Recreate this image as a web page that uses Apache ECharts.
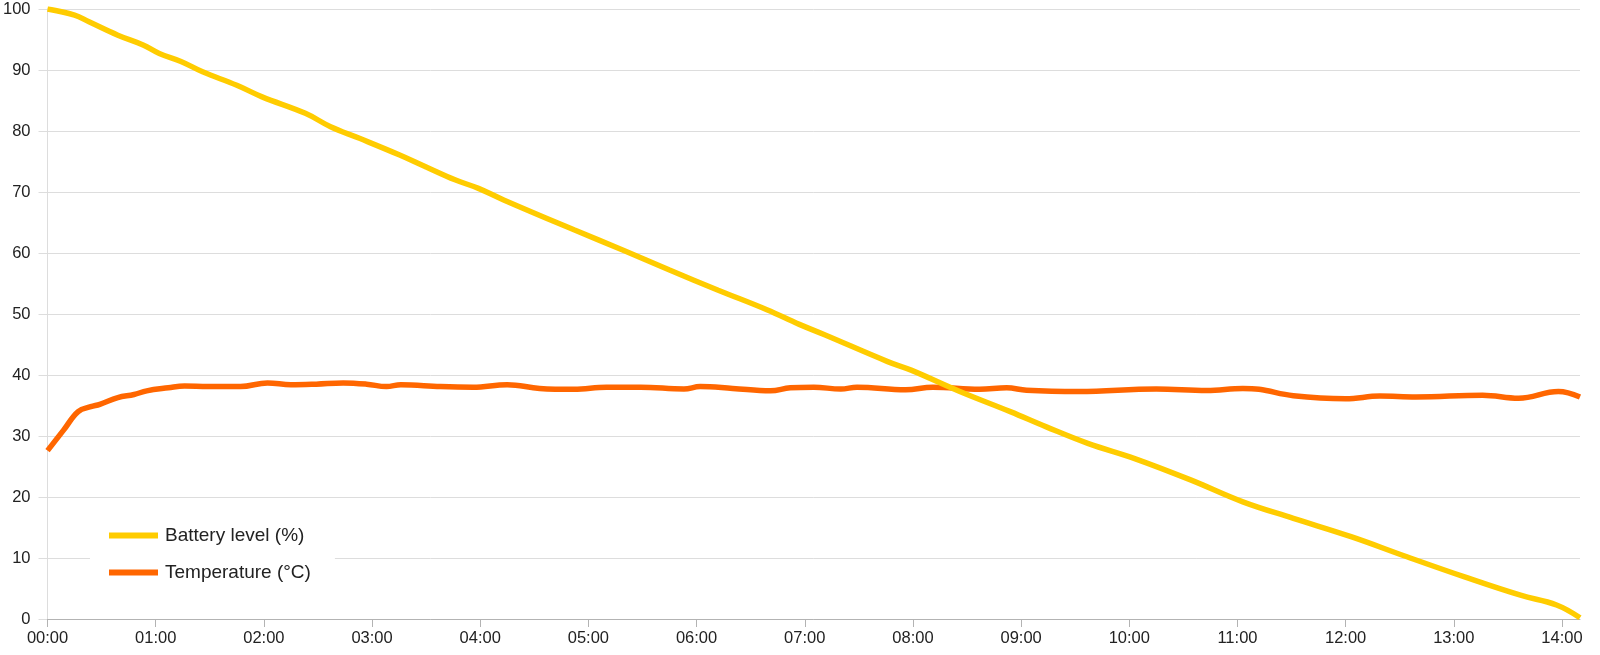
<!DOCTYPE html>
<html>
<head>
<meta charset="utf-8">
<script src="https://cdn.jsdelivr.net/npm/echarts@6/dist/echarts.min.js"></script>
<style>
html,body{margin:0;padding:0;background:#fff;}
#chart{width:1600px;height:655px;}
</style>
</head>
<body>
<div id="chart"></div>
<script>
// Time in minutes since start
var batteryMinutes = [0,15,23,39,53,62,74,86,105,119,143,157,173,195,210,226,239,253,292,319,345,372,399,417,431,466,479,506,534,554,577,603,634,663,691,723,754,786,817,837,850];
var batteryLevel   = [100,99.0,97.9,95.7,94.1,92.7,91.4,89.7,87.5,85.6,82.9,80.7,78.8,76.1,74.1,72.0,70.6,68.7,63.8,60.5,57.2,53.9,50.7,48.3,46.6,42.2,40.8,37.3,34.0,31.5,28.8,26.3,22.8,19.2,16.5,13.5,10.2,6.9,3.9,2.3,0.2];

var tempMinutes = [0,9,17,24,29,39,48,55,67,76,89,107,122,135,149,164,177,188,196,218,236,255,273,292,310,329,353,362,380,401,412,425,440,449,476,491,517,532,543,572,615,643,663,672,691,720,739,759,796,816,838,850];
var tempValue   = [27.6,31.0,34.0,34.8,35.2,36.3,36.8,37.4,37.9,38.2,38.1,38.1,38.7,38.4,38.5,38.7,38.5,38.1,38.4,38.1,38.0,38.4,37.8,37.65,38.0,38.0,37.7,38.1,37.8,37.4,37.9,38.0,37.7,38.0,37.6,38.0,37.65,37.9,37.5,37.3,37.7,37.45,37.8,37.65,36.6,36.1,36.55,36.4,36.7,36.2,37.3,36.4];

var xTickMinutes = [0,60,120,180,240,300,360,420,480,540,600,660,720,780,840];
var xTickLabels  = ['00:00','01:00','02:00','03:00','04:00','05:00','06:00','07:00','08:00','09:00','10:00','11:00','12:00','13:00','14:00'];
var seriesNames = ['Battery level (%)', 'Temperature (\u00B0C)'];

function pairs(xs, ys){ return xs.map(function(x,i){ return [x, ys[i]]; }); }

var chart = echarts.init(document.getElementById('chart'));
var font = 'Liberation Sans, Arial, sans-serif';
chart.setOption({
  animation: false,
  backgroundColor: '#ffffff',
  grid: { left: 47, top: 9, right: 20, bottom: 36, containLabel: false },
  legend: {
    orient: 'vertical',
    left: 90,
    top: 517,
    padding: [9, 24, 9, 19],
    backgroundColor: '#ffffff',
    itemGap: 18,
    itemWidth: 49,
    itemHeight: 6,
    icon: 'rect',
    textStyle: { fontFamily: font, fontSize: 19, color: '#222', padding: [0,0,0,2] },
    data: seriesNames
  },
  xAxis: {
    type: 'value',
    min: 0,
    max: 850,
    axisLine: { show: true, lineStyle: { color: '#b3b3b3', width: 1 } },
    axisTick: { show: true, length: 8, lineStyle: { color: '#b3b3b3' }, customValues: xTickMinutes },
    axisLabel: {
      customValues: xTickMinutes,
      margin: 11,
      fontFamily: font, fontSize: 16.5, color: '#222',
      formatter: function(v){ var i = xTickMinutes.indexOf(v); return i >= 0 ? xTickLabels[i] : ''; }
    },
    splitLine: { show: false }
  },
  yAxis: {
    type: 'value',
    min: 0,
    max: 100,
    interval: 10,
    axisLine: { show: true, lineStyle: { color: '#dddddd' } },
    axisTick: { show: true, length: 9, lineStyle: { color: '#dddddd' } },
    axisLabel: { margin: 17, fontFamily: font, fontSize: 16.5, color: '#222' },
    splitLine: { show: true, lineStyle: { color: '#dddddd', width: 1 } }
  },
  series: [
    {
      name: seriesNames[0],
      type: 'line',
      data: pairs(batteryMinutes, batteryLevel),
      smooth: 0.4,
      showSymbol: false,
      symbol: 'none',
      lineStyle: { color: '#ffcc00', width: 5.5 },
      itemStyle: { color: '#ffcc00' },
      z: 3
    },
    {
      name: seriesNames[1],
      type: 'line',
      data: pairs(tempMinutes, tempValue),
      smooth: 0.4,
      showSymbol: false,
      symbol: 'none',
      lineStyle: { color: '#ff6600', width: 5.5 },
      itemStyle: { color: '#ff6600' },
      z: 2
    }
  ]
});
</script>
</body>
</html>
